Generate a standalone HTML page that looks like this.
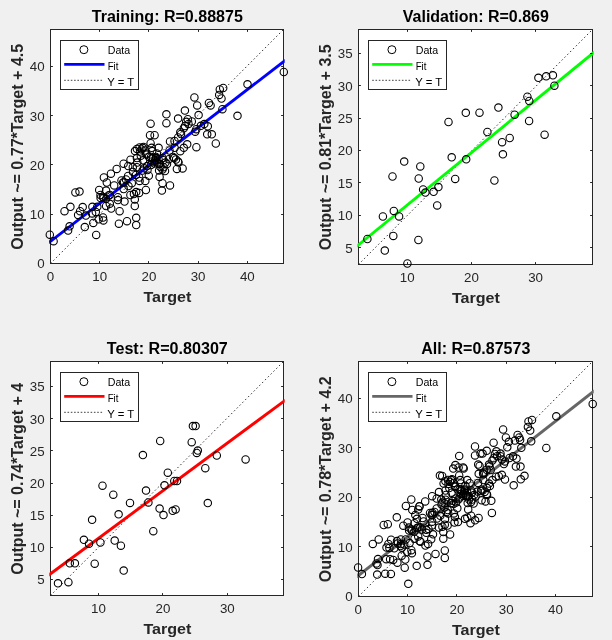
<!DOCTYPE html>
<html><head><meta charset="utf-8"><title>Regression</title>
<style>
html,body{margin:0;padding:0;background:#f0f0f0}
svg{display:block}
text{font-family:"Liberation Sans",Arial,Helvetica,sans-serif}
.tk{font-size:13.33px;fill:#262626}
.lb{font-size:15.2px;font-weight:bold;fill:#262626}
.tt{font-size:16px;font-weight:bold;fill:#000}
.lg{font-size:10.67px;fill:#000}
</style></head><body>
<svg width="612" height="640" viewBox="0 0 612 640">
<rect width="612" height="640" fill="#f0f0f0"/>
<g id="train">
<rect x="50.5" y="29.5" width="233.0" height="234.0" fill="#fff"/>
<clipPath id="c0"><rect x="49.3" y="28.3" width="235.4" height="236.4"/></clipPath>
<rect x="50.5" y="29.5" width="233.0" height="234.0" fill="none" stroke="#262626" stroke-width="1"/>
<line x1="50.5" y1="263.5" x2="283.5" y2="29.5" stroke="#1a1a1a" stroke-width="0.95" stroke-dasharray="1.4 2.6" clip-path="url(#c0)"/>
<line x1="48.50" y1="242.88" x2="285.50" y2="60.20" stroke="#0000ff" stroke-width="2.9" clip-path="url(#c0)"/>
<g fill="none" stroke="#000" stroke-width="1.1">
<circle cx="49.8" cy="234.7" r="3.7"/><circle cx="53.6" cy="241.2" r="3.7"/><circle cx="68.1" cy="230.6" r="3.7"/><circle cx="69.6" cy="226.3" r="3.7"/><circle cx="64.5" cy="211.2" r="3.7"/><circle cx="70.4" cy="206.8" r="3.7"/><circle cx="75.4" cy="192.4" r="3.7"/><circle cx="79.5" cy="191.6" r="3.7"/><circle cx="84.8" cy="227.1" r="3.7"/><circle cx="96.2" cy="234.9" r="3.7"/><circle cx="82.7" cy="207.1" r="3.7"/><circle cx="80.1" cy="211.2" r="3.7"/><circle cx="78.1" cy="214.9" r="3.7"/><circle cx="85.9" cy="215.6" r="3.7"/><circle cx="92.4" cy="206.8" r="3.7"/><circle cx="92.1" cy="213.4" r="3.7"/><circle cx="95.8" cy="211.9" r="3.7"/><circle cx="93.3" cy="222.9" r="3.7"/><circle cx="98.7" cy="219.3" r="3.7"/><circle cx="103.4" cy="220.4" r="3.7"/><circle cx="97.3" cy="206.8" r="3.7"/><circle cx="118.9" cy="223.7" r="3.7"/><circle cx="127.0" cy="221.2" r="3.7"/><circle cx="136.2" cy="217.8" r="3.7"/><circle cx="136.2" cy="225.1" r="3.7"/><circle cx="119.6" cy="211.2" r="3.7"/><circle cx="111.2" cy="208.5" r="3.7"/><circle cx="106.1" cy="206.0" r="3.7"/><circle cx="109.8" cy="203.8" r="3.7"/><circle cx="99.2" cy="189.9" r="3.7"/><circle cx="100.6" cy="197.9" r="3.7"/><circle cx="103.9" cy="177.4" r="3.7"/><circle cx="106.8" cy="182.5" r="3.7"/><circle cx="110.9" cy="173.7" r="3.7"/><circle cx="114.2" cy="185.4" r="3.7"/><circle cx="106.1" cy="190.6" r="3.7"/><circle cx="109.8" cy="195.0" r="3.7"/><circle cx="117.9" cy="197.2" r="3.7"/><circle cx="117.9" cy="200.1" r="3.7"/><circle cx="124.5" cy="201.6" r="3.7"/><circle cx="123.7" cy="189.1" r="3.7"/><circle cx="123.0" cy="182.5" r="3.7"/><circle cx="130.4" cy="195.0" r="3.7"/><circle cx="134.8" cy="199.4" r="3.7"/><circle cx="134.8" cy="206.0" r="3.7"/><circle cx="131.8" cy="183.2" r="3.7"/><circle cx="128.1" cy="175.9" r="3.7"/><circle cx="136.2" cy="192.1" r="3.7"/><circle cx="116.7" cy="168.9" r="3.7"/><circle cx="123.6" cy="163.7" r="3.7"/><circle cx="130.5" cy="159.7" r="3.7"/><circle cx="135.0" cy="151.1" r="3.7"/><circle cx="103.6" cy="198.1" r="3.7"/><circle cx="103.0" cy="217.5" r="3.7"/><circle cx="139.6" cy="180.9" r="3.7"/><circle cx="145.3" cy="180.9" r="3.7"/><circle cx="148.8" cy="175.7" r="3.7"/><circle cx="145.9" cy="190.0" r="3.7"/><circle cx="139.1" cy="192.9" r="3.7"/><circle cx="133.9" cy="194.1" r="3.7"/><circle cx="161.9" cy="190.6" r="3.7"/><circle cx="162.5" cy="183.2" r="3.7"/><circle cx="159.6" cy="176.9" r="3.7"/><circle cx="159.1" cy="170.6" r="3.7"/><circle cx="132.8" cy="167.2" r="3.7"/><circle cx="128.2" cy="166.0" r="3.7"/><circle cx="137.3" cy="162.6" r="3.7"/><circle cx="143.1" cy="160.3" r="3.7"/><circle cx="140.8" cy="155.7" r="3.7"/><circle cx="146.5" cy="154.6" r="3.7"/><circle cx="151.1" cy="156.9" r="3.7"/><circle cx="154.5" cy="161.4" r="3.7"/><circle cx="159.1" cy="163.7" r="3.7"/><circle cx="162.5" cy="158.0" r="3.7"/><circle cx="156.8" cy="153.4" r="3.7"/><circle cx="152.2" cy="151.1" r="3.7"/><circle cx="144.2" cy="168.3" r="3.7"/><circle cx="163.6" cy="167.2" r="3.7"/><circle cx="166.4" cy="114.3" r="3.7"/><circle cx="166.4" cy="123.2" r="3.7"/><circle cx="150.6" cy="123.7" r="3.7"/><circle cx="178.1" cy="118.6" r="3.7"/><circle cx="184.9" cy="110.6" r="3.7"/><circle cx="187.8" cy="119.2" r="3.7"/><circle cx="191.8" cy="121.4" r="3.7"/><circle cx="198.6" cy="115.1" r="3.7"/><circle cx="150.0" cy="135.2" r="3.7"/><circle cx="154.6" cy="135.2" r="3.7"/><circle cx="150.6" cy="143.2" r="3.7"/><circle cx="170.0" cy="141.5" r="3.7"/><circle cx="183.8" cy="128.3" r="3.7"/><circle cx="180.3" cy="132.3" r="3.7"/><circle cx="178.1" cy="137.5" r="3.7"/><circle cx="196.4" cy="147.2" r="3.7"/><circle cx="195.2" cy="131.7" r="3.7"/><circle cx="187.2" cy="144.3" r="3.7"/><circle cx="183.8" cy="147.8" r="3.7"/><circle cx="180.3" cy="151.2" r="3.7"/><circle cx="174.6" cy="147.8" r="3.7"/><circle cx="174.1" cy="158.1" r="3.7"/><circle cx="178.1" cy="161.5" r="3.7"/><circle cx="176.9" cy="168.9" r="3.7"/><circle cx="182.6" cy="168.4" r="3.7"/><circle cx="136.9" cy="148.9" r="3.7"/><circle cx="142.6" cy="147.8" r="3.7"/><circle cx="151.7" cy="147.8" r="3.7"/><circle cx="158.6" cy="147.8" r="3.7"/><circle cx="156.3" cy="158.1" r="3.7"/><circle cx="165.5" cy="162.6" r="3.7"/><circle cx="136.9" cy="158.1" r="3.7"/><circle cx="136.9" cy="167.2" r="3.7"/><circle cx="147.2" cy="166.1" r="3.7"/><circle cx="142.6" cy="170.6" r="3.7"/><circle cx="168.9" cy="159.2" r="3.7"/><circle cx="139.2" cy="177.5" r="3.7"/><circle cx="194.4" cy="97.4" r="3.7"/><circle cx="197.2" cy="105.4" r="3.7"/><circle cx="208.9" cy="102.9" r="3.7"/><circle cx="210.6" cy="105.4" r="3.7"/><circle cx="219.8" cy="89.4" r="3.7"/><circle cx="223.2" cy="88.0" r="3.7"/><circle cx="219.2" cy="94.9" r="3.7"/><circle cx="221.5" cy="98.5" r="3.7"/><circle cx="222.4" cy="109.2" r="3.7"/><circle cx="237.5" cy="115.8" r="3.7"/><circle cx="204.3" cy="124.1" r="3.7"/><circle cx="207.8" cy="126.3" r="3.7"/><circle cx="200.9" cy="125.8" r="3.7"/><circle cx="196.3" cy="129.2" r="3.7"/><circle cx="207.2" cy="134.3" r="3.7"/><circle cx="211.8" cy="134.3" r="3.7"/><circle cx="215.8" cy="143.5" r="3.7"/><circle cx="247.5" cy="84.3" r="3.7"/><circle cx="283.8" cy="72.0" r="3.7"/><circle cx="170.0" cy="185.4" r="3.7"/><circle cx="153.0" cy="158.5" r="3.7"/><circle cx="155.5" cy="160.0" r="3.7"/><circle cx="157.0" cy="162.5" r="3.7"/><circle cx="154.5" cy="163.5" r="3.7"/><circle cx="152.0" cy="161.5" r="3.7"/><circle cx="158.5" cy="159.0" r="3.7"/><circle cx="156.0" cy="157.0" r="3.7"/><circle cx="159.5" cy="164.0" r="3.7"/><circle cx="151.0" cy="165.0" r="3.7"/><circle cx="139.5" cy="147.5" r="3.7"/><circle cx="141.5" cy="149.5" r="3.7"/><circle cx="143.5" cy="147.0" r="3.7"/><circle cx="145.0" cy="150.5" r="3.7"/><circle cx="140.0" cy="151.5" r="3.7"/><circle cx="146.5" cy="153.5" r="3.7"/><circle cx="160.5" cy="167.0" r="3.7"/><circle cx="162.5" cy="169.5" r="3.7"/><circle cx="165.0" cy="171.0" r="3.7"/><circle cx="163.4" cy="160.2" r="3.7"/><circle cx="167.0" cy="164.0" r="3.7"/><circle cx="186.2" cy="121.8" r="3.7"/><circle cx="181.0" cy="134.0" r="3.7"/><circle cx="174.5" cy="141.0" r="3.7"/><circle cx="188.5" cy="124.0" r="3.7"/><circle cx="185.0" cy="126.0" r="3.7"/><circle cx="173.0" cy="157.0" r="3.7"/><circle cx="176.0" cy="159.5" r="3.7"/><circle cx="178.5" cy="162.5" r="3.7"/><circle cx="121.5" cy="180.5" r="3.7"/><circle cx="124.0" cy="182.5" r="3.7"/><circle cx="126.0" cy="179.5" r="3.7"/><circle cx="128.5" cy="186.0" r="3.7"/><circle cx="100.5" cy="195.0" r="3.7"/><circle cx="103.0" cy="197.0" r="3.7"/><circle cx="106.0" cy="199.0" r="3.7"/><circle cx="108.5" cy="195.5" r="3.7"/><circle cx="133.0" cy="172.0" r="3.7"/><circle cx="136.0" cy="175.0" r="3.7"/><circle cx="147.5" cy="170.0" r="3.7"/><circle cx="149.0" cy="157.0" r="3.7"/><circle cx="169.5" cy="150.5" r="3.7"/>
</g>
<path d="M50.5 263.5v-2.4M50.5 29.5v2.4M99.5 263.5v-2.4M99.5 29.5v2.4M148.5 263.5v-2.4M148.5 29.5v2.4M198.5 263.5v-2.4M198.5 29.5v2.4M247.5 263.5v-2.4M247.5 29.5v2.4M50.5 263.5h2.4M283.5 263.5h-2.4M50.5 214.5h2.4M283.5 214.5h-2.4M50.5 164.5h2.4M283.5 164.5h-2.4M50.5 115.5h2.4M283.5 115.5h-2.4M50.5 66.5h2.4M283.5 66.5h-2.4" stroke="#262626" stroke-width="1" fill="none"/>
<text class="tk" x="50.5" y="281.1" text-anchor="middle">0</text><text class="tk" x="99.7" y="281.1" text-anchor="middle">10</text><text class="tk" x="148.9" y="281.1" text-anchor="middle">20</text><text class="tk" x="198.1" y="281.1" text-anchor="middle">30</text><text class="tk" x="247.3" y="281.1" text-anchor="middle">40</text><text class="tk" x="44.7" y="268.3" text-anchor="end">0</text><text class="tk" x="44.7" y="219.1" text-anchor="end">10</text><text class="tk" x="44.7" y="169.8" text-anchor="end">20</text><text class="tk" x="44.7" y="120.5" text-anchor="end">30</text><text class="tk" x="44.7" y="71.3" text-anchor="end">40</text>
<text class="tt" x="167.3" y="22.0" text-anchor="middle" textLength="151" lengthAdjust="spacingAndGlyphs">Training: R=0.88875</text>
<text class="lb" x="167.4" y="301.7" text-anchor="middle" textLength="48" lengthAdjust="spacingAndGlyphs">Target</text>
<text class="lb" style="font-size:15.8px" transform="translate(23.2 146.8) rotate(-90)" text-anchor="middle" textLength="206" lengthAdjust="spacingAndGlyphs">Output ~= 0.77*Target + 4.5</text>
<rect x="60.5" y="40.5" width="78" height="49" fill="#fff" stroke="#262626" stroke-width="1"/>
<circle cx="83.9" cy="49.7" r="4" fill="none" stroke="#000" stroke-width="1"/>
<line x1="64.2" y1="64.4" x2="104.5" y2="64.4" stroke="#0000ff" stroke-width="2.9"/>
<line x1="64.2" y1="80.3" x2="102.1" y2="80.3" stroke="#000" stroke-width="0.75" stroke-dasharray="1.6 1.7"/>
<text class="lg" x="107.7" y="54.3" textLength="22.5" lengthAdjust="spacingAndGlyphs">Data</text><text class="lg" x="107.7" y="70.0" textLength="10.8" lengthAdjust="spacingAndGlyphs">Fit</text><text class="lg" x="107.3" y="86.1" textLength="27" lengthAdjust="spacingAndGlyphs">Y = T</text>
</g>
<g id="val">
<rect x="358.5" y="29.5" width="234.0" height="235.0" fill="#fff"/>
<clipPath id="c1"><rect x="357.3" y="28.3" width="236.4" height="237.4"/></clipPath>
<rect x="358.5" y="29.5" width="234.0" height="235.0" fill="none" stroke="#262626" stroke-width="1"/>
<line x1="358.5" y1="264.5" x2="592.5" y2="29.5" stroke="#1a1a1a" stroke-width="0.95" stroke-dasharray="1.4 2.6" clip-path="url(#c1)"/>
<line x1="356.50" y1="246.41" x2="594.50" y2="51.98" stroke="#00ff00" stroke-width="2.9" clip-path="url(#c1)"/>
<g fill="none" stroke="#000" stroke-width="1.1">
<circle cx="465.8" cy="112.8" r="3.7"/><circle cx="448.5" cy="122.0" r="3.7"/><circle cx="451.7" cy="157.3" r="3.7"/><circle cx="466.2" cy="159.3" r="3.7"/><circle cx="404.2" cy="161.6" r="3.7"/><circle cx="420.3" cy="166.4" r="3.7"/><circle cx="392.5" cy="176.5" r="3.7"/><circle cx="418.7" cy="178.5" r="3.7"/><circle cx="455.2" cy="178.9" r="3.7"/><circle cx="438.4" cy="187.1" r="3.7"/><circle cx="423.1" cy="189.5" r="3.7"/><circle cx="425.4" cy="192.6" r="3.7"/><circle cx="433.6" cy="191.8" r="3.7"/><circle cx="437.2" cy="205.4" r="3.7"/><circle cx="393.8" cy="210.9" r="3.7"/><circle cx="382.9" cy="216.5" r="3.7"/><circle cx="399.1" cy="216.4" r="3.7"/><circle cx="367.4" cy="239.0" r="3.7"/><circle cx="393.3" cy="235.9" r="3.7"/><circle cx="418.4" cy="240.0" r="3.7"/><circle cx="384.8" cy="250.6" r="3.7"/><circle cx="407.4" cy="263.5" r="3.7"/><circle cx="538.4" cy="77.8" r="3.7"/><circle cx="546.2" cy="76.3" r="3.7"/><circle cx="552.9" cy="75.3" r="3.7"/><circle cx="554.4" cy="85.7" r="3.7"/><circle cx="527.4" cy="96.7" r="3.7"/><circle cx="529.3" cy="101.0" r="3.7"/><circle cx="498.4" cy="107.6" r="3.7"/><circle cx="479.5" cy="112.7" r="3.7"/><circle cx="514.6" cy="114.7" r="3.7"/><circle cx="529.1" cy="121.0" r="3.7"/><circle cx="487.4" cy="132.0" r="3.7"/><circle cx="544.6" cy="134.7" r="3.7"/><circle cx="509.7" cy="138.0" r="3.7"/><circle cx="502.1" cy="142.2" r="3.7"/><circle cx="502.9" cy="154.3" r="3.7"/><circle cx="494.4" cy="180.5" r="3.7"/>
</g>
<path d="M407.5 264.5v-2.4M407.5 29.5v2.4M471.5 264.5v-2.4M471.5 29.5v2.4M535.5 264.5v-2.4M535.5 29.5v2.4M358.5 247.5h2.4M592.5 247.5h-2.4M358.5 215.5h2.4M592.5 215.5h-2.4M358.5 182.5h2.4M592.5 182.5h-2.4M358.5 150.5h2.4M592.5 150.5h-2.4M358.5 118.5h2.4M592.5 118.5h-2.4M358.5 85.5h2.4M592.5 85.5h-2.4M358.5 53.5h2.4M592.5 53.5h-2.4" stroke="#262626" stroke-width="1" fill="none"/>
<text class="tk" x="407.2" y="282.1" text-anchor="middle">10</text><text class="tk" x="471.4" y="282.1" text-anchor="middle">20</text><text class="tk" x="535.6" y="282.1" text-anchor="middle">30</text><text class="tk" x="352.7" y="252.5" text-anchor="end">5</text><text class="tk" x="352.7" y="220.2" text-anchor="end">10</text><text class="tk" x="352.7" y="187.8" text-anchor="end">15</text><text class="tk" x="352.7" y="155.4" text-anchor="end">20</text><text class="tk" x="352.7" y="123.0" text-anchor="end">25</text><text class="tk" x="352.7" y="90.7" text-anchor="end">30</text><text class="tk" x="352.7" y="58.3" text-anchor="end">35</text>
<text class="tt" x="475.8" y="22.0" text-anchor="middle" textLength="146" lengthAdjust="spacingAndGlyphs">Validation: R=0.869</text>
<text class="lb" x="475.9" y="302.7" text-anchor="middle" textLength="48" lengthAdjust="spacingAndGlyphs">Target</text>
<text class="lb" style="font-size:15.8px" transform="translate(331.2 147.3) rotate(-90)" text-anchor="middle" textLength="206" lengthAdjust="spacingAndGlyphs">Output ~= 0.81*Target + 3.5</text>
<rect x="368.5" y="40.5" width="78" height="49" fill="#fff" stroke="#262626" stroke-width="1"/>
<circle cx="391.9" cy="49.7" r="4" fill="none" stroke="#000" stroke-width="1"/>
<line x1="372.2" y1="64.4" x2="412.5" y2="64.4" stroke="#00ff00" stroke-width="2.9"/>
<line x1="372.2" y1="80.3" x2="410.1" y2="80.3" stroke="#000" stroke-width="0.75" stroke-dasharray="1.6 1.7"/>
<text class="lg" x="415.7" y="54.3" textLength="22.5" lengthAdjust="spacingAndGlyphs">Data</text><text class="lg" x="415.7" y="70.0" textLength="10.8" lengthAdjust="spacingAndGlyphs">Fit</text><text class="lg" x="415.3" y="86.1" textLength="27" lengthAdjust="spacingAndGlyphs">Y = T</text>
</g>
<g id="test">
<rect x="50.5" y="361.5" width="233.0" height="234.0" fill="#fff"/>
<clipPath id="c2"><rect x="49.3" y="360.3" width="235.4" height="236.4"/></clipPath>
<rect x="50.5" y="361.5" width="233.0" height="234.0" fill="none" stroke="#262626" stroke-width="1"/>
<line x1="50.5" y1="595.5" x2="283.5" y2="361.5" stroke="#1a1a1a" stroke-width="0.95" stroke-dasharray="1.4 2.6" clip-path="url(#c2)"/>
<line x1="48.50" y1="575.28" x2="285.50" y2="400.12" stroke="#ff0000" stroke-width="2.9" clip-path="url(#c2)"/>
<g fill="none" stroke="#000" stroke-width="1.1">
<circle cx="102.5" cy="485.7" r="3.7"/><circle cx="113.3" cy="494.7" r="3.7"/><circle cx="146.0" cy="490.6" r="3.7"/><circle cx="164.5" cy="485.3" r="3.7"/><circle cx="130.0" cy="502.9" r="3.7"/><circle cx="148.4" cy="502.4" r="3.7"/><circle cx="159.6" cy="508.6" r="3.7"/><circle cx="163.5" cy="515.1" r="3.7"/><circle cx="118.6" cy="514.3" r="3.7"/><circle cx="92.1" cy="519.8" r="3.7"/><circle cx="153.3" cy="531.2" r="3.7"/><circle cx="83.9" cy="539.8" r="3.7"/><circle cx="89.0" cy="543.7" r="3.7"/><circle cx="100.4" cy="542.4" r="3.7"/><circle cx="114.7" cy="540.6" r="3.7"/><circle cx="120.9" cy="545.7" r="3.7"/><circle cx="69.8" cy="563.3" r="3.7"/><circle cx="74.9" cy="563.3" r="3.7"/><circle cx="94.7" cy="563.7" r="3.7"/><circle cx="123.7" cy="570.6" r="3.7"/><circle cx="58.0" cy="583.3" r="3.7"/><circle cx="68.4" cy="582.2" r="3.7"/><circle cx="192.9" cy="426.1" r="3.7"/><circle cx="195.6" cy="426.1" r="3.7"/><circle cx="160.2" cy="441.0" r="3.7"/><circle cx="191.7" cy="442.2" r="3.7"/><circle cx="142.9" cy="455.1" r="3.7"/><circle cx="197.8" cy="450.6" r="3.7"/><circle cx="196.8" cy="452.9" r="3.7"/><circle cx="216.8" cy="455.5" r="3.7"/><circle cx="205.3" cy="468.2" r="3.7"/><circle cx="167.8" cy="472.7" r="3.7"/><circle cx="174.3" cy="481.0" r="3.7"/><circle cx="177.0" cy="481.0" r="3.7"/><circle cx="172.7" cy="510.8" r="3.7"/><circle cx="175.6" cy="509.4" r="3.7"/><circle cx="207.8" cy="503.1" r="3.7"/><circle cx="245.6" cy="459.4" r="3.7"/>
</g>
<path d="M98.5 595.5v-2.4M98.5 361.5v2.4M162.5 595.5v-2.4M162.5 361.5v2.4M227.5 595.5v-2.4M227.5 361.5v2.4M50.5 579.5h2.4M283.5 579.5h-2.4M50.5 547.5h2.4M283.5 547.5h-2.4M50.5 515.5h2.4M283.5 515.5h-2.4M50.5 483.5h2.4M283.5 483.5h-2.4M50.5 450.5h2.4M283.5 450.5h-2.4M50.5 418.5h2.4M283.5 418.5h-2.4M50.5 386.5h2.4M283.5 386.5h-2.4" stroke="#262626" stroke-width="1" fill="none"/>
<text class="tk" x="98.4" y="613.1" text-anchor="middle">10</text><text class="tk" x="162.9" y="613.1" text-anchor="middle">20</text><text class="tk" x="227.3" y="613.1" text-anchor="middle">30</text><text class="tk" x="44.7" y="584.4" text-anchor="end">5</text><text class="tk" x="44.7" y="552.2" text-anchor="end">10</text><text class="tk" x="44.7" y="520.0" text-anchor="end">15</text><text class="tk" x="44.7" y="487.8" text-anchor="end">20</text><text class="tk" x="44.7" y="455.7" text-anchor="end">25</text><text class="tk" x="44.7" y="423.5" text-anchor="end">30</text><text class="tk" x="44.7" y="391.3" text-anchor="end">35</text>
<text class="tt" x="167.3" y="354.0" text-anchor="middle" textLength="121" lengthAdjust="spacingAndGlyphs">Test: R=0.80307</text>
<text class="lb" x="167.4" y="633.7" text-anchor="middle" textLength="48" lengthAdjust="spacingAndGlyphs">Target</text>
<text class="lb" style="font-size:15.8px" transform="translate(23.2 478.8) rotate(-90)" text-anchor="middle" textLength="192" lengthAdjust="spacingAndGlyphs">Output ~= 0.74*Target + 4</text>
<rect x="60.5" y="372.5" width="78" height="49" fill="#fff" stroke="#262626" stroke-width="1"/>
<circle cx="83.9" cy="381.7" r="4" fill="none" stroke="#000" stroke-width="1"/>
<line x1="64.2" y1="396.4" x2="104.5" y2="396.4" stroke="#ff0000" stroke-width="2.9"/>
<line x1="64.2" y1="412.3" x2="102.1" y2="412.3" stroke="#000" stroke-width="0.75" stroke-dasharray="1.6 1.7"/>
<text class="lg" x="107.7" y="386.3" textLength="22.5" lengthAdjust="spacingAndGlyphs">Data</text><text class="lg" x="107.7" y="402.0" textLength="10.8" lengthAdjust="spacingAndGlyphs">Fit</text><text class="lg" x="107.3" y="418.1" textLength="27" lengthAdjust="spacingAndGlyphs">Y = T</text>
</g>
<g id="all">
<rect x="358.5" y="361.5" width="234.0" height="235.0" fill="#fff"/>
<clipPath id="c3"><rect x="357.3" y="360.3" width="236.4" height="237.4"/></clipPath>
<rect x="358.5" y="361.5" width="234.0" height="235.0" fill="none" stroke="#262626" stroke-width="1"/>
<line x1="358.5" y1="596.5" x2="592.5" y2="361.5" stroke="#1a1a1a" stroke-width="0.95" stroke-dasharray="1.4 2.6" clip-path="url(#c3)"/>
<line x1="356.50" y1="577.03" x2="594.50" y2="390.66" stroke="#666666" stroke-width="2.9" clip-path="url(#c3)"/>
<g fill="none" stroke="#000" stroke-width="1.1">
<circle cx="358.1" cy="567.5" r="3.7"/><circle cx="361.9" cy="574.1" r="3.7"/><circle cx="376.5" cy="563.4" r="3.7"/><circle cx="378.0" cy="559.1" r="3.7"/><circle cx="372.8" cy="543.9" r="3.7"/><circle cx="378.7" cy="539.4" r="3.7"/><circle cx="383.7" cy="525.0" r="3.7"/><circle cx="387.8" cy="524.2" r="3.7"/><circle cx="393.2" cy="559.9" r="3.7"/><circle cx="404.7" cy="567.7" r="3.7"/><circle cx="391.1" cy="539.7" r="3.7"/><circle cx="388.4" cy="543.9" r="3.7"/><circle cx="386.5" cy="547.6" r="3.7"/><circle cx="394.3" cy="548.3" r="3.7"/><circle cx="400.8" cy="539.4" r="3.7"/><circle cx="400.5" cy="546.1" r="3.7"/><circle cx="404.2" cy="544.6" r="3.7"/><circle cx="401.7" cy="555.7" r="3.7"/><circle cx="407.2" cy="552.0" r="3.7"/><circle cx="411.9" cy="553.2" r="3.7"/><circle cx="405.7" cy="539.4" r="3.7"/><circle cx="427.4" cy="556.5" r="3.7"/><circle cx="435.5" cy="553.9" r="3.7"/><circle cx="444.8" cy="550.5" r="3.7"/><circle cx="444.8" cy="557.9" r="3.7"/><circle cx="428.1" cy="543.9" r="3.7"/><circle cx="419.7" cy="541.2" r="3.7"/><circle cx="414.5" cy="538.7" r="3.7"/><circle cx="418.2" cy="536.5" r="3.7"/><circle cx="407.6" cy="522.4" r="3.7"/><circle cx="409.1" cy="530.6" r="3.7"/><circle cx="412.3" cy="509.9" r="3.7"/><circle cx="415.3" cy="515.0" r="3.7"/><circle cx="419.4" cy="506.2" r="3.7"/><circle cx="422.6" cy="518.0" r="3.7"/><circle cx="414.5" cy="523.2" r="3.7"/><circle cx="418.2" cy="527.6" r="3.7"/><circle cx="426.3" cy="529.8" r="3.7"/><circle cx="426.3" cy="532.8" r="3.7"/><circle cx="433.0" cy="534.3" r="3.7"/><circle cx="432.2" cy="521.7" r="3.7"/><circle cx="431.5" cy="515.0" r="3.7"/><circle cx="438.9" cy="527.6" r="3.7"/><circle cx="443.3" cy="532.1" r="3.7"/><circle cx="443.3" cy="538.7" r="3.7"/><circle cx="440.3" cy="515.8" r="3.7"/><circle cx="436.7" cy="508.4" r="3.7"/><circle cx="444.8" cy="524.7" r="3.7"/><circle cx="425.2" cy="501.4" r="3.7"/><circle cx="432.1" cy="496.2" r="3.7"/><circle cx="439.0" cy="492.1" r="3.7"/><circle cx="443.6" cy="483.5" r="3.7"/><circle cx="412.0" cy="530.7" r="3.7"/><circle cx="411.4" cy="550.2" r="3.7"/><circle cx="448.2" cy="513.4" r="3.7"/><circle cx="453.9" cy="513.4" r="3.7"/><circle cx="457.3" cy="508.3" r="3.7"/><circle cx="454.5" cy="522.6" r="3.7"/><circle cx="447.6" cy="525.5" r="3.7"/><circle cx="442.4" cy="526.7" r="3.7"/><circle cx="470.5" cy="523.2" r="3.7"/><circle cx="471.1" cy="515.7" r="3.7"/><circle cx="468.2" cy="509.4" r="3.7"/><circle cx="467.7" cy="503.1" r="3.7"/><circle cx="441.3" cy="499.6" r="3.7"/><circle cx="436.7" cy="498.5" r="3.7"/><circle cx="445.9" cy="495.0" r="3.7"/><circle cx="451.6" cy="492.7" r="3.7"/><circle cx="449.3" cy="488.1" r="3.7"/><circle cx="455.0" cy="487.0" r="3.7"/><circle cx="459.6" cy="489.3" r="3.7"/><circle cx="463.1" cy="493.9" r="3.7"/><circle cx="467.7" cy="496.2" r="3.7"/><circle cx="471.1" cy="490.4" r="3.7"/><circle cx="465.4" cy="485.8" r="3.7"/><circle cx="460.8" cy="483.5" r="3.7"/><circle cx="452.7" cy="500.8" r="3.7"/><circle cx="472.2" cy="499.6" r="3.7"/><circle cx="475.0" cy="446.5" r="3.7"/><circle cx="475.0" cy="455.4" r="3.7"/><circle cx="459.2" cy="455.9" r="3.7"/><circle cx="486.7" cy="450.8" r="3.7"/><circle cx="493.6" cy="442.7" r="3.7"/><circle cx="496.4" cy="451.3" r="3.7"/><circle cx="500.5" cy="453.6" r="3.7"/><circle cx="507.3" cy="447.3" r="3.7"/><circle cx="458.6" cy="467.5" r="3.7"/><circle cx="463.2" cy="467.5" r="3.7"/><circle cx="459.2" cy="475.5" r="3.7"/><circle cx="478.7" cy="473.8" r="3.7"/><circle cx="492.4" cy="460.6" r="3.7"/><circle cx="489.0" cy="464.6" r="3.7"/><circle cx="486.7" cy="469.8" r="3.7"/><circle cx="505.0" cy="479.5" r="3.7"/><circle cx="503.9" cy="464.0" r="3.7"/><circle cx="495.9" cy="476.7" r="3.7"/><circle cx="492.4" cy="480.1" r="3.7"/><circle cx="489.0" cy="483.6" r="3.7"/><circle cx="483.3" cy="480.1" r="3.7"/><circle cx="482.7" cy="490.5" r="3.7"/><circle cx="486.7" cy="493.9" r="3.7"/><circle cx="485.5" cy="501.4" r="3.7"/><circle cx="491.3" cy="500.8" r="3.7"/><circle cx="445.4" cy="481.3" r="3.7"/><circle cx="451.1" cy="480.1" r="3.7"/><circle cx="460.3" cy="480.1" r="3.7"/><circle cx="467.2" cy="480.1" r="3.7"/><circle cx="464.9" cy="490.5" r="3.7"/><circle cx="474.1" cy="495.1" r="3.7"/><circle cx="445.4" cy="490.5" r="3.7"/><circle cx="445.4" cy="499.7" r="3.7"/><circle cx="455.7" cy="498.5" r="3.7"/><circle cx="451.1" cy="503.1" r="3.7"/><circle cx="477.5" cy="491.6" r="3.7"/><circle cx="447.7" cy="510.0" r="3.7"/><circle cx="503.1" cy="429.5" r="3.7"/><circle cx="505.9" cy="437.5" r="3.7"/><circle cx="517.6" cy="435.0" r="3.7"/><circle cx="519.3" cy="437.5" r="3.7"/><circle cx="528.5" cy="421.4" r="3.7"/><circle cx="532.0" cy="420.0" r="3.7"/><circle cx="527.9" cy="426.9" r="3.7"/><circle cx="530.2" cy="430.6" r="3.7"/><circle cx="531.2" cy="441.3" r="3.7"/><circle cx="546.3" cy="448.0" r="3.7"/><circle cx="513.0" cy="456.3" r="3.7"/><circle cx="516.5" cy="458.6" r="3.7"/><circle cx="509.6" cy="458.0" r="3.7"/><circle cx="505.0" cy="461.4" r="3.7"/><circle cx="515.9" cy="466.6" r="3.7"/><circle cx="520.5" cy="466.6" r="3.7"/><circle cx="524.5" cy="475.8" r="3.7"/><circle cx="556.3" cy="416.3" r="3.7"/><circle cx="592.7" cy="403.9" r="3.7"/><circle cx="478.6" cy="518.0" r="3.7"/><circle cx="461.6" cy="490.9" r="3.7"/><circle cx="464.1" cy="492.4" r="3.7"/><circle cx="465.6" cy="494.9" r="3.7"/><circle cx="463.1" cy="495.9" r="3.7"/><circle cx="460.6" cy="493.9" r="3.7"/><circle cx="467.1" cy="491.4" r="3.7"/><circle cx="464.6" cy="489.4" r="3.7"/><circle cx="468.1" cy="496.4" r="3.7"/><circle cx="459.6" cy="497.4" r="3.7"/><circle cx="448.0" cy="479.9" r="3.7"/><circle cx="450.0" cy="481.9" r="3.7"/><circle cx="452.0" cy="479.3" r="3.7"/><circle cx="453.5" cy="482.9" r="3.7"/><circle cx="448.5" cy="483.9" r="3.7"/><circle cx="455.1" cy="485.9" r="3.7"/><circle cx="469.1" cy="499.5" r="3.7"/><circle cx="471.1" cy="502.0" r="3.7"/><circle cx="473.6" cy="503.5" r="3.7"/><circle cx="472.0" cy="492.6" r="3.7"/><circle cx="475.6" cy="496.4" r="3.7"/><circle cx="494.9" cy="454.0" r="3.7"/><circle cx="489.6" cy="466.3" r="3.7"/><circle cx="483.1" cy="473.3" r="3.7"/><circle cx="497.2" cy="456.2" r="3.7"/><circle cx="493.7" cy="458.2" r="3.7"/><circle cx="481.6" cy="489.4" r="3.7"/><circle cx="484.6" cy="491.9" r="3.7"/><circle cx="487.1" cy="494.9" r="3.7"/><circle cx="430.0" cy="513.0" r="3.7"/><circle cx="432.5" cy="515.0" r="3.7"/><circle cx="434.5" cy="512.0" r="3.7"/><circle cx="437.0" cy="518.6" r="3.7"/><circle cx="408.9" cy="527.6" r="3.7"/><circle cx="411.4" cy="529.6" r="3.7"/><circle cx="414.4" cy="531.6" r="3.7"/><circle cx="417.0" cy="528.1" r="3.7"/><circle cx="441.5" cy="504.5" r="3.7"/><circle cx="444.5" cy="507.5" r="3.7"/><circle cx="456.1" cy="502.5" r="3.7"/><circle cx="457.6" cy="489.4" r="3.7"/><circle cx="478.1" cy="482.9" r="3.7"/><circle cx="453.2" cy="468.6" r="3.7"/><circle cx="439.9" cy="475.6" r="3.7"/><circle cx="442.3" cy="502.6" r="3.7"/><circle cx="453.5" cy="504.1" r="3.7"/><circle cx="405.9" cy="505.9" r="3.7"/><circle cx="418.2" cy="509.5" r="3.7"/><circle cx="396.8" cy="517.3" r="3.7"/><circle cx="417.0" cy="518.8" r="3.7"/><circle cx="445.0" cy="519.1" r="3.7"/><circle cx="432.1" cy="525.4" r="3.7"/><circle cx="420.3" cy="527.2" r="3.7"/><circle cx="422.1" cy="529.6" r="3.7"/><circle cx="428.5" cy="529.0" r="3.7"/><circle cx="431.2" cy="539.3" r="3.7"/><circle cx="397.9" cy="543.5" r="3.7"/><circle cx="389.4" cy="547.9" r="3.7"/><circle cx="401.9" cy="547.7" r="3.7"/><circle cx="377.5" cy="565.1" r="3.7"/><circle cx="397.4" cy="562.7" r="3.7"/><circle cx="416.7" cy="565.8" r="3.7"/><circle cx="390.9" cy="573.9" r="3.7"/><circle cx="408.3" cy="583.8" r="3.7"/><circle cx="508.9" cy="441.8" r="3.7"/><circle cx="514.9" cy="440.6" r="3.7"/><circle cx="520.1" cy="439.9" r="3.7"/><circle cx="521.3" cy="447.8" r="3.7"/><circle cx="500.5" cy="456.2" r="3.7"/><circle cx="502.0" cy="459.5" r="3.7"/><circle cx="478.2" cy="464.6" r="3.7"/><circle cx="463.7" cy="468.5" r="3.7"/><circle cx="490.7" cy="470.0" r="3.7"/><circle cx="501.8" cy="474.8" r="3.7"/><circle cx="469.7" cy="483.2" r="3.7"/><circle cx="513.7" cy="485.3" r="3.7"/><circle cx="486.9" cy="487.8" r="3.7"/><circle cx="481.0" cy="491.0" r="3.7"/><circle cx="481.6" cy="500.3" r="3.7"/><circle cx="475.1" cy="520.3" r="3.7"/><circle cx="411.3" cy="499.5" r="3.7"/><circle cx="419.5" cy="506.4" r="3.7"/><circle cx="444.6" cy="503.3" r="3.7"/><circle cx="458.7" cy="499.2" r="3.7"/><circle cx="432.3" cy="512.8" r="3.7"/><circle cx="446.4" cy="512.3" r="3.7"/><circle cx="454.9" cy="517.1" r="3.7"/><circle cx="458.0" cy="522.1" r="3.7"/><circle cx="423.6" cy="521.5" r="3.7"/><circle cx="403.3" cy="525.7" r="3.7"/><circle cx="450.1" cy="534.5" r="3.7"/><circle cx="397.0" cy="541.1" r="3.7"/><circle cx="400.9" cy="544.1" r="3.7"/><circle cx="409.6" cy="543.1" r="3.7"/><circle cx="420.6" cy="541.7" r="3.7"/><circle cx="425.4" cy="545.6" r="3.7"/><circle cx="386.2" cy="559.2" r="3.7"/><circle cx="390.1" cy="559.2" r="3.7"/><circle cx="405.3" cy="559.5" r="3.7"/><circle cx="427.5" cy="564.8" r="3.7"/><circle cx="377.2" cy="574.6" r="3.7"/><circle cx="385.2" cy="573.7" r="3.7"/><circle cx="480.5" cy="453.6" r="3.7"/><circle cx="482.6" cy="453.6" r="3.7"/><circle cx="455.4" cy="465.1" r="3.7"/><circle cx="479.6" cy="466.0" r="3.7"/><circle cx="442.2" cy="475.9" r="3.7"/><circle cx="484.2" cy="472.5" r="3.7"/><circle cx="483.5" cy="474.3" r="3.7"/><circle cx="498.8" cy="476.2" r="3.7"/><circle cx="489.9" cy="486.1" r="3.7"/><circle cx="461.3" cy="489.5" r="3.7"/><circle cx="466.2" cy="495.9" r="3.7"/><circle cx="468.3" cy="495.9" r="3.7"/><circle cx="465.0" cy="518.8" r="3.7"/><circle cx="467.3" cy="517.7" r="3.7"/><circle cx="491.9" cy="512.9" r="3.7"/><circle cx="520.8" cy="479.3" r="3.7"/>
</g>
<path d="M358.5 596.5v-2.4M358.5 361.5v2.4M407.5 596.5v-2.4M407.5 361.5v2.4M456.5 596.5v-2.4M456.5 361.5v2.4M506.5 596.5v-2.4M506.5 361.5v2.4M555.5 596.5v-2.4M555.5 361.5v2.4M358.5 596.5h2.4M592.5 596.5h-2.4M358.5 546.5h2.4M592.5 546.5h-2.4M358.5 497.5h2.4M592.5 497.5h-2.4M358.5 447.5h2.4M592.5 447.5h-2.4M358.5 398.5h2.4M592.5 398.5h-2.4" stroke="#262626" stroke-width="1" fill="none"/>
<text class="tk" x="358.2" y="614.1" text-anchor="middle">0</text><text class="tk" x="407.5" y="614.1" text-anchor="middle">10</text><text class="tk" x="456.9" y="614.1" text-anchor="middle">20</text><text class="tk" x="506.2" y="614.1" text-anchor="middle">30</text><text class="tk" x="555.5" y="614.1" text-anchor="middle">40</text><text class="tk" x="352.7" y="601.3" text-anchor="end">0</text><text class="tk" x="352.7" y="551.8" text-anchor="end">10</text><text class="tk" x="352.7" y="502.2" text-anchor="end">20</text><text class="tk" x="352.7" y="452.7" text-anchor="end">30</text><text class="tk" x="352.7" y="403.2" text-anchor="end">40</text>
<text class="tt" x="475.8" y="354.0" text-anchor="middle" textLength="109" lengthAdjust="spacingAndGlyphs">All: R=0.87573</text>
<text class="lb" x="475.9" y="634.7" text-anchor="middle" textLength="48" lengthAdjust="spacingAndGlyphs">Target</text>
<text class="lb" style="font-size:15.8px" transform="translate(331.2 479.3) rotate(-90)" text-anchor="middle" textLength="206" lengthAdjust="spacingAndGlyphs">Output ~= 0.78*Target + 4.2</text>
<rect x="368.5" y="372.5" width="78" height="49" fill="#fff" stroke="#262626" stroke-width="1"/>
<circle cx="391.9" cy="381.7" r="4" fill="none" stroke="#000" stroke-width="1"/>
<line x1="372.2" y1="396.4" x2="412.5" y2="396.4" stroke="#666666" stroke-width="2.9"/>
<line x1="372.2" y1="412.3" x2="410.1" y2="412.3" stroke="#000" stroke-width="0.75" stroke-dasharray="1.6 1.7"/>
<text class="lg" x="415.7" y="386.3" textLength="22.5" lengthAdjust="spacingAndGlyphs">Data</text><text class="lg" x="415.7" y="402.0" textLength="10.8" lengthAdjust="spacingAndGlyphs">Fit</text><text class="lg" x="415.3" y="418.1" textLength="27" lengthAdjust="spacingAndGlyphs">Y = T</text>
</g>
</svg>
</body></html>
